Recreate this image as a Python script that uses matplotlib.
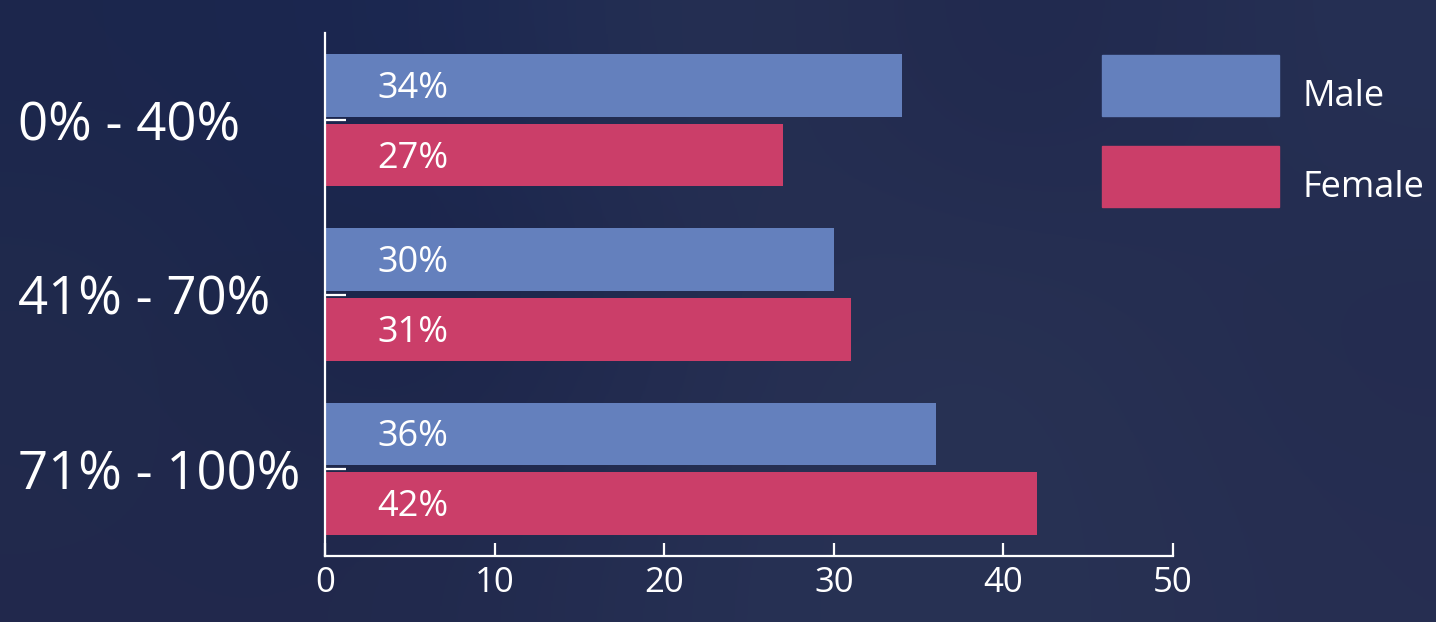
import numpy as np
import matplotlib.pyplot as plt
import matplotlib.transforms as mtransforms
from matplotlib.patches import Patch

categories = ["0% - 40%", "41% - 70%", "71% - 100%"]
male = [34, 30, 36]
female = [27, 31, 42]
x_ticks = [0, 10, 20, 30, 40, 50]

male_color = "#6480bd"
female_color = "#cb3e69"

plt.rcParams["font.family"] = ["Open Sans", "DejaVu Sans"]

fig = plt.figure(figsize=(14.36, 6.22), dpi=100)

# soft navy backdrop
bg = fig.add_axes([0, 0, 1, 1], zorder=-10)
bg_colors = np.array([
    [[0.11, 0.15, 0.30], [0.10, 0.15, 0.32], [0.16, 0.20, 0.33], [0.12, 0.15, 0.30], [0.15, 0.19, 0.33]],
    [[0.13, 0.17, 0.30], [0.09, 0.13, 0.28], [0.15, 0.18, 0.32], [0.16, 0.20, 0.33], [0.14, 0.17, 0.31]],
    [[0.13, 0.16, 0.30], [0.13, 0.16, 0.30], [0.15, 0.19, 0.33], [0.16, 0.20, 0.33], [0.15, 0.18, 0.32]],
])
bg.imshow(bg_colors, aspect="auto", interpolation="bicubic", extent=[0, 1, 0, 1])
bg.set_axis_off()

ax = fig.add_axes([325 / 1436, 66 / 622, 848 / 1436, 523 / 622])
ax.patch.set_alpha(0)

y = np.arange(len(categories))
h = 0.36
ax.barh(y - 0.2, male, height=h, color=male_color, label="Male")
ax.barh(y + 0.2, female, height=h, color=female_color, label="Female")

for i in range(len(categories)):
    ax.text(3.1, y[i] - 0.18, f"{male[i]}%", color="white", fontsize=26,
            ha="left", va="center")
    ax.text(3.1, y[i] + 0.22, f"{female[i]}%", color="white", fontsize=26,
            ha="left", va="center")

ax.set_xlim(0, 50)
ax.set_ylim(2.5, -0.5)
ax.set_xticks(x_ticks)
ax.set_yticks(y, categories)
lift = mtransforms.ScaledTranslation(0, 4 / 72, fig.dpi_scale_trans)
for lab in ax.get_yticklabels():
    lab.set_ha("left")
    lab.set_transform(lab.get_transform() + lift)

for side in ["top", "right"]:
    ax.spines[side].set_visible(False)
for side in ["left", "bottom"]:
    ax.spines[side].set_color("white")
    ax.spines[side].set_linewidth(1.6)

ax.tick_params(axis="x", direction="in", length=9.5, width=1.6, color="white",
               labelcolor="white", labelsize=25, pad=7)
ax.tick_params(axis="y", direction="in", length=15, width=1.6, color="white",
               labelcolor="white", labelsize=38, pad=221)

handles = [Patch(color=male_color), Patch(color=female_color)]
leg = fig.legend(handles, ["Male", "Female"], loc="upper left",
                 bbox_to_anchor=(1102 / 1436, 1 - 55 / 622), frameon=False,
                 fontsize=26, handlelength=4.9, handleheight=2.22,
                 labelspacing=0.83, handletextpad=0.64, borderpad=0,
                 borderaxespad=0)
for t in leg.get_texts():
    t.set_color("white")
    t.set_va("center")

fig.savefig("out.png", dpi=100)
